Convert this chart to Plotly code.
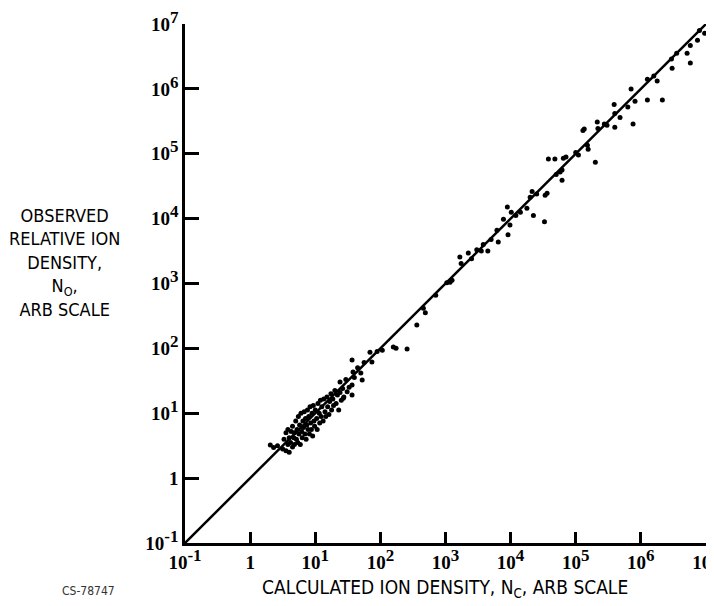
import plotly.graph_objects as go

# (calculated N_C, observed N_O), arbitrary scale
calculated = [
    2.04, 2.29, 2.63, 3.16, 3.31, 3.55, 3.55, 3.80, 3.80, 3.98, 3.98,
    4.17, 4.27, 4.47, 4.47, 4.68, 4.79, 4.79, 5.01, 5.13, 5.25, 5.37,
    5.50, 5.62, 5.75, 5.89, 6.03, 6.17, 6.31, 6.46, 6.61, 6.76, 6.92,
    7.08, 7.24, 7.41, 7.59, 7.76, 7.94, 8.13, 8.32, 8.51, 8.71, 8.91,
    9.12, 9.33, 9.55, 9.77, 10.0, 10.5, 10.7, 11.0, 11.5, 11.7, 12.0,
    12.3, 12.6, 13.2, 13.5, 14.1, 14.5, 15.1, 15.5, 16.2, 16.6, 17.4,
    17.8, 18.6, 19.1, 20.0, 20.9, 21.9, 22.9, 24.0, 25.1, 26.3, 27.5,
    24.0, 26.9, 29.5, 30.9, 33.1, 36.7, 36.7, 38.0, 36.7, 39.8, 44.7,
    50.1, 52.5, 56.2, 74.1, 69.2, 89.1, 107, 158, 174, 257, 363, 457,
    490, 708, 1047, 1175, 1259, 1660, 1738, 2239, 2512, 3020, 3548,
    3802, 4467, 5012, 6166, 6457, 7762, 9120, 8913, 9772, 10233, 12023,
    14125, 17783, 19953, 21380, 22387, 25119, 33113, 33884, 36308, 38019,
    47863, 50119, 57544, 61660, 61660, 64565, 70795, 1.0e5, 1.10e5,
    1.29e5, 1.35e5, 1.51e5, 1.55e5, 2.0e5, 2.14e5, 2.19e5, 2.75e5,
    3.02e5, 3.89e5, 3.98e5, 3.98e5, 4.79e5, 6.31e5, 7.08e5, 7.59e5,
    8.13e5, 1.26e6, 1.26e6, 1.58e6, 1.78e6, 2.14e6, 2.95e6, 3.02e6,
    3.55e6, 5.13e6, 5.75e6, 5.75e6, 7.41e6, 7.94e6, 9.55e6,
]
observed = [
    3.24, 2.95, 3.16, 2.82, 3.98, 5.01, 2.63, 3.31, 5.62, 4.17, 2.51,
    3.55, 5.25, 3.02, 6.31, 4.17, 5.01, 3.31, 7.59, 3.98, 5.62, 3.55,
    8.91, 4.79, 6.61, 3.31, 10.0, 5.25, 4.17, 7.59, 6.03, 10.5, 4.79,
    8.32, 3.98, 6.61, 11.2, 5.62, 8.91, 4.79, 12.6, 7.08, 5.62, 10.0,
    4.47, 13.2, 7.59, 6.31, 11.2, 8.32, 5.62, 14.1, 10.0, 7.08, 15.8,
    8.91, 12.6, 7.59, 16.6, 10.5, 8.91, 17.8, 12.6, 9.55, 15.1, 20.0,
    11.2, 16.6, 13.2, 22.4, 14.1, 19.1, 11.2, 20.9, 15.8, 24.0, 17.8,
    30.2, 17.0, 33.1, 21.4, 25.1, 19.1, 27.2, 43.2, 66.1, 35.5, 50.1,
    41.7, 32.4, 60.3, 61.7, 87.1, 89.1, 93.3, 105, 100, 97.7, 229, 417,
    355, 661, 1023, 1047, 1122, 2570, 2042, 2951, 2399, 3311, 3162,
    3981, 3162, 4786, 6607, 4365, 9772, 5623, 15136, 7943, 12589, 11220,
    12589, 14454, 21380, 26303, 11220, 23988, 8913, 22909, 24547, 83176,
    83176, 47863, 52481, 38905, 56234, 85114, 89125, 1.05e5, 9.55e4,
    2.29e5, 2.40e5, 1.35e5, 1.17e5, 7.41e4, 3.09e5, 2.45e5, 2.88e5,
    2.75e5, 5.75e5, 2.57e5, 4.17e5, 3.63e5, 5.25e5, 1.0e6, 2.88e5,
    6.46e5, 6.76e5, 1.41e6, 1.58e6, 1.32e6, 6.76e5, 2.88e6, 2.09e6,
    3.55e6, 3.55e6, 2.51e6, 4.68e6, 5.62e6, 7.94e6, 7.24e6,
]

# Line of equality N_O = N_C across the axis span
equality_line = [0.1, 1e7]

tick_values = [0.1, 1, 10, 1e2, 1e3, 1e4, 1e5, 1e6, 1e7]
tick_exponents = ["-1", "", "1", "2", "3", "4", "5", "6", "7"]


def tick_text(exp):
    if exp == "":
        return "<b>1</b>"
    return "<b>10</b><sup><span style='font-size:17px'><b>%s</b></span></sup>" % exp


tick_labels = [tick_text(e) for e in tick_exponents]

narrow = "Liberation Sans Narrow, DejaVu Sans Condensed, Arial Narrow, sans-serif"
serif = "Liberation Serif, DejaVu Serif, serif"

fig = go.Figure()
fig.add_trace(go.Scatter(
    x=equality_line, y=equality_line, mode="lines",
    line=dict(color="black", width=2.5), hoverinfo="skip", showlegend=False,
))
fig.add_trace(go.Scatter(
    x=calculated, y=observed, mode="markers",
    marker=dict(color="black", size=5, line=dict(width=0)), showlegend=False,
))

axis_common = dict(
    type="log", range=[-1.0005, 7.0005], tickmode="array", tickvals=tick_values,
    ticktext=tick_labels, tickwidth=2.5, tickcolor="black",
    showline=True, linecolor="black", linewidth=2.5, mirror=False,
    showgrid=False, zeroline=False, automargin=False,
    ticks="inside", ticklabeloverflow="allow",
    tickfont=dict(family=serif, size=19, color="black"),
)
fig.update_xaxes(**axis_common, ticklen=11)
fig.update_yaxes(**axis_common, ticklen=14)

fig.update_layout(
    width=706, height=598,
    margin=dict(l=177, r=8, t=16, b=63),
    plot_bgcolor="white", paper_bgcolor="white",
    annotations=[
        dict(text="OBSERVED<br>RELATIVE ION<br>DENSITY,<br>N<sub>O</sub>,<br>ARB SCALE",
             xref="paper", yref="paper", x=-0.232, y=0.541,
             xanchor="center", yanchor="middle", align="center", showarrow=False,
             font=dict(family=narrow, size=18, color="black")),
        dict(text="CALCULATED ION DENSITY, N<sub>C</sub>, ARB SCALE",
             xref="paper", yref="paper", x=0.499, y=-0.087,
             xanchor="center", yanchor="middle", showarrow=False,
             font=dict(family=narrow, size=19, color="black")),
        dict(text="CS-78747",
             xref="paper", yref="paper", x=-0.186, y=-0.093,
             xanchor="center", yanchor="middle", showarrow=False,
             font=dict(family=narrow, size=12, color="#333333")),
    ],
)

fig.write_html("out.html")
